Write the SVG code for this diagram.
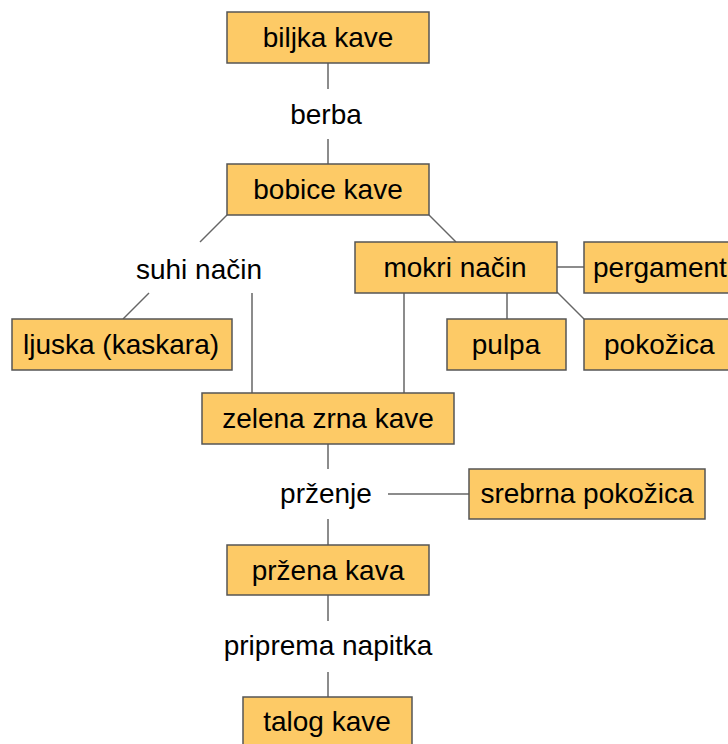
<svg xmlns="http://www.w3.org/2000/svg" width="728" height="744" viewBox="0 0 728 744">
<style>
.box{fill:#fdca66;stroke:#555;stroke-width:1.5}
.t{font-family:"Liberation Sans",Arial,sans-serif;font-size:28px;fill:#000;text-anchor:middle}
.s{text-anchor:start}
.c line{stroke:#666;stroke-width:1.5}
</style>
<rect width="728" height="744" fill="#fff"/>
<g class="c" id="connectors">
<line x1="328" y1="63" x2="328" y2="89"/>
<line x1="328" y1="139" x2="328" y2="164"/>
<line x1="227" y1="215" x2="200" y2="242"/>
<line x1="429" y1="215" x2="456" y2="242"/>
<line x1="149" y1="293" x2="123" y2="319"/>
<line x1="252" y1="293" x2="252" y2="393"/>
<line x1="404" y1="293" x2="404" y2="393"/>
<line x1="557" y1="267" x2="584" y2="267"/>
<line x1="507" y1="293" x2="507" y2="319"/>
<line x1="557" y1="292" x2="584" y2="319"/>
<line x1="328" y1="444" x2="328" y2="469"/>
<line x1="388" y1="494" x2="469" y2="494"/>
<line x1="328" y1="519" x2="328" y2="545"/>
<line x1="328" y1="595" x2="328" y2="621"/>
<line x1="328" y1="672" x2="328" y2="697"/>
</g>
<g id="biljka"><rect class="box" x="227" y="12" width="202" height="51"/><text class="t" x="328" y="47">biljka kave</text></g>
<g id="berba"><text class="t" x="326" y="124">berba</text></g>
<g id="bobice"><rect class="box" x="227" y="164" width="202" height="51"/><text class="t" x="328" y="199">bobice kave</text></g>
<g id="suhi"><text class="t" x="199" y="279">suhi način</text></g>
<g id="mokri"><rect class="box" x="355" y="242" width="202" height="51"/><text class="t" x="455" y="277">mokri način</text></g>
<g id="pergament"><rect class="box" x="584" y="242" width="152" height="51"/><text class="t s" x="593" y="277">pergament</text></g>
<g id="ljuska"><rect class="box" x="12" y="319" width="220" height="51"/><text class="t" x="121" y="354">ljuska (kaskara)</text></g>
<g id="pulpa"><rect class="box" x="447" y="319" width="119" height="51"/><text class="t" x="506" y="354">pulpa</text></g>
<g id="pokozica"><rect class="box" x="584" y="319" width="152" height="51"/><text class="t s" x="604" y="354">pokožica</text></g>
<g id="zelena"><rect class="box" x="202" y="393" width="252" height="51"/><text class="t" x="328" y="428">zelena zrna kave</text></g>
<g id="przenje"><text class="t" x="326" y="503">prženje</text></g>
<g id="srebrna"><rect class="box" x="469" y="469" width="236" height="50"/><text class="t" x="587" y="503">srebrna pokožica</text></g>
<g id="przena"><rect class="box" x="227" y="545" width="202" height="50"/><text class="t" x="328" y="580">pržena kava</text></g>
<g id="priprema"><text class="t" x="328" y="655">priprema napitka</text></g>
<g id="talog"><rect class="box" x="243" y="697" width="169" height="51"/><text class="t" x="327" y="731">talog kave</text></g>
</svg>
